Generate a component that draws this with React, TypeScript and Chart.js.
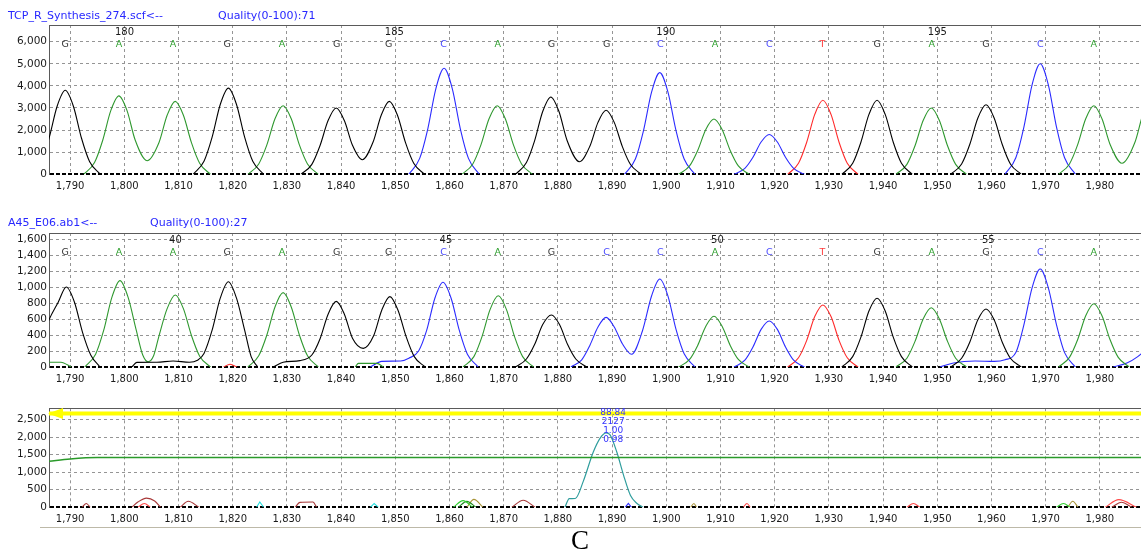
import React, { useEffect, useRef } from "react";
import { Chart, registerables } from "chart.js";
Chart.register(...registerables);
Chart.defaults.font.family = "DejaVu Sans";

type P = [number, number | null];

const X_MIN = 1786.1;
const X_MAX = 1987.6;
const xTicks = [1790, 1800, 1810, 1820, 1830, 1840, 1850, 1860, 1870, 1880, 1890, 1900, 1910, 1920, 1930, 1940, 1950, 1960, 1970, 1980];
const yTicks1 = [0, 1000, 2000, 3000, 4000, 5000, 6000];
const yTicks2 = [0, 200, 400, 600, 800, 1000, 1200, 1400, 1600];
const yTicks3 = [0, 500, 1000, 1500, 2000, 2500];

// base call positions (scan units) and letters
const baseX = [1789.1, 1799.0, 1809.0, 1819.0, 1829.1, 1839.2, 1848.8, 1858.9, 1868.9, 1878.8, 1889.0, 1898.9, 1909.0, 1919.0, 1928.8, 1938.9, 1949.0, 1959.0, 1969.0, 1978.9];
const bases1 = ["G", "A", "A", "G", "A", "G", "G", "C", "A", "G", "G", "C", "A", "C", "T", "G", "A", "G", "C", "A"];
const bases2 = ["G", "A", "A", "G", "A", "G", "G", "C", "A", "G", "C", "C", "A", "C", "T", "G", "A", "G", "C", "A"];
const posIdx1 = [1, 6, 11, 16];
const posLabels1 = ["180", "185", "190", "195"];
const posIdx2 = [2, 7, 12, 17];
const posLabels2 = ["40", "45", "50", "55"];
const peakLabels3 = ["88.84", "2127", "1.00", "0.98"];
const peakLabelX3 = 1890.2;

// ---------- panel 1 (TCP_R_Synthesis_274.scf) ----------
const p1G: P[] = [
  [1782.6, 0], [1784.6, 570], [1786.1, 1630], [1787.6, 3080], [1789.1, 3800], [1790.6, 3080], [1792.1, 1630], [1793.6, 570], [1795.6, 0], [1795.7, null],
  [1812.7, 0], [1814.7, 590], [1816.2, 1680], [1817.7, 3160], [1819.2, 3900], [1820.7, 3160], [1822.2, 1680], [1823.7, 590], [1825.7, 0], [1825.8, null],
  [1832.6, 0], [1834.6, 450], [1836.1, 1290], [1837.6, 2430], [1839.1, 3000], [1840.6, 2430], [1842.1, 1310], [1843.9, 660], [1845.9, 1460], [1847.4, 2670], [1848.9, 3300], [1850.4, 2670], [1851.9, 1420], [1853.4, 500], [1855.4, 0], [1855.5, null],
  [1872.2, 0], [1874.2, 530], [1875.7, 1510], [1877.2, 2840], [1878.7, 3500], [1880.2, 2840], [1881.7, 1530], [1884.0, 570], [1885.9, 1270], [1887.4, 2350], [1888.9, 2900], [1890.4, 2350], [1891.9, 1250], [1893.4, 440], [1895.4, 0], [1895.5, null],
  [1932.4, 0], [1934.4, 500], [1935.9, 1440], [1937.4, 2710], [1938.9, 3350], [1940.4, 2710], [1941.9, 1440], [1943.4, 500], [1945.4, 0], [1945.5, null],
  [1952.5, 0], [1954.5, 470], [1956.0, 1350], [1957.5, 2550], [1959.0, 3150], [1960.5, 2550], [1962.0, 1350], [1963.5, 470], [1965.5, 0],
];
const p1A: P[] = [
  [1792.5, 0], [1794.5, 530], [1796.0, 1530], [1797.5, 2880], [1799.0, 3550], [1800.5, 2880], [1802.0, 1550], [1804.2, 615], [1806.4, 1440], [1807.9, 2670], [1809.4, 3300], [1810.9, 2670], [1812.4, 1420], [1813.9, 500], [1815.9, 0], [1816.0, null],
  [1822.8, 0], [1824.8, 470], [1826.3, 1330], [1827.8, 2510], [1829.3, 3100], [1830.8, 2510], [1832.3, 1330], [1833.8, 470], [1835.8, 0], [1835.9, null],
  [1862.3, 0], [1864.3, 470], [1865.8, 1330], [1867.3, 2510], [1868.8, 3100], [1870.3, 2510], [1871.8, 1330], [1873.3, 470], [1875.3, 0], [1875.4, null],
  [1902.3, 0], [1904.3, 380], [1905.8, 1080], [1907.3, 2030], [1908.8, 2500], [1910.3, 2030], [1911.8, 1080], [1913.3, 380], [1915.3, 0], [1915.4, null],
  [1942.4, 0], [1944.4, 450], [1945.9, 1290], [1947.4, 2430], [1948.9, 3000], [1950.4, 2430], [1951.9, 1290], [1953.4, 450], [1955.4, 0], [1955.5, null],
  [1972.4, 0], [1974.4, 470], [1975.9, 1330], [1977.4, 2510], [1978.9, 3100], [1980.4, 2510], [1981.9, 1350], [1984.1, 500], [1986.5, 1460], [1988.0, 2750], [1989.5, 3400], [1991.0, 2750],
];
const p1C: P[] = [
  [1852.5, 0], [1854.5, 720], [1856.0, 2060], [1857.5, 3890], [1859.0, 4800], [1860.5, 3890], [1862.0, 2060], [1863.5, 720], [1865.5, 0], [1865.6, null],
  [1892.3, 0], [1894.3, 690], [1895.8, 1980], [1897.3, 3730], [1898.8, 4600], [1900.3, 3730], [1901.8, 1980], [1903.3, 690], [1905.3, 0], [1905.4, null],
  [1912.5, 0], [1914.5, 270], [1916.0, 770], [1917.5, 1460], [1919.0, 1800], [1920.5, 1460], [1922.0, 770], [1923.5, 270], [1925.5, 0], [1925.6, null],
  [1962.5, 0], [1964.5, 750], [1966.0, 2150], [1967.5, 4050], [1969.0, 5000], [1970.5, 4050], [1972.0, 2150], [1973.5, 750], [1975.5, 0],
];
const p1T: P[] = [
  [1922.4, 0], [1924.4, 500], [1925.9, 1440], [1927.4, 2710], [1928.9, 3350], [1930.4, 2710], [1931.9, 1440], [1933.4, 500], [1935.4, 0],
];

// ---------- panel 2 (A45_E06.ab1) ----------
const p2G: P[] = [
  [1784.0, 200], [1786.1, 590], [1787.8, 810], [1789.3, 1000], [1790.8, 810], [1792.3, 430], [1793.8, 150], [1795.5, 0], [1795.6, null],
  [1801.4, 0], [1802.3, 58], [1806.0, 60], [1809.0, 75], [1812.0, 60], [1813.5, 85], [1814.7, 170], [1816.2, 460], [1817.7, 860], [1819.2, 1066], [1820.7, 860], [1822.2, 460], [1823.4, 130], [1824.6, 0], [1824.7, null],
  [1827.5, 0], [1829.3, 60], [1832.4, 80], [1834.6, 150], [1836.1, 350], [1837.6, 660], [1839.1, 820], [1840.6, 660], [1842.1, 360], [1844.1, 233], [1846.0, 390], [1847.5, 710], [1849.0, 880], [1850.5, 710], [1852.0, 380], [1853.5, 130], [1855.5, 0], [1855.6, null],
  [1872.2, 0], [1874.2, 100], [1875.7, 280], [1877.2, 530], [1878.8, 650], [1880.3, 530], [1881.8, 280], [1883.3, 100], [1885.3, 0], [1885.4, null],
  [1932.4, 0], [1934.4, 130], [1935.9, 370], [1937.4, 700], [1938.9, 860], [1940.4, 700], [1941.9, 370], [1943.4, 130], [1945.4, 0], [1945.5, null],
  [1952.5, 0], [1954.5, 110], [1956.0, 310], [1957.5, 590], [1959.0, 725], [1960.5, 590], [1962.0, 310], [1963.5, 110], [1965.5, 0],
];
const p2A: P[] = [
  [1786.1, 60], [1788.3, 60], [1790.2, 0], [1790.3, null],
  [1792.7, 0], [1794.7, 160], [1796.2, 460], [1797.7, 870], [1799.2, 1080], [1800.7, 870], [1802.2, 460], [1803.4, 150], [1804.4, 66], [1805.4, 140], [1806.4, 390], [1807.9, 730], [1809.4, 900], [1810.9, 730], [1812.4, 390], [1813.9, 135], [1815.9, 0], [1816.0, null],
  [1822.8, 0], [1824.8, 140], [1826.3, 400], [1827.8, 750], [1829.3, 930], [1830.8, 750], [1832.3, 400], [1833.8, 140], [1835.8, 0], [1835.9, null],
  [1842.6, 0], [1843.2, 45], [1846.6, 45], [1847.8, 0], [1847.9, null],
  [1862.5, 0], [1864.5, 130], [1866.0, 380], [1867.5, 720], [1869.0, 890], [1870.5, 720], [1872.0, 380], [1873.5, 130], [1875.5, 0], [1875.6, null],
  [1902.3, 0], [1904.3, 95], [1905.8, 270], [1907.3, 510], [1908.8, 635], [1910.3, 510], [1911.8, 270], [1913.3, 95], [1915.3, 0], [1915.4, null],
  [1942.4, 0], [1944.4, 110], [1945.9, 320], [1947.4, 600], [1948.9, 740], [1950.4, 600], [1951.9, 320], [1953.4, 110], [1955.4, 0], [1955.5, null],
  [1972.4, 0], [1974.4, 120], [1975.9, 340], [1977.4, 640], [1978.9, 790], [1980.4, 640], [1981.9, 340], [1983.4, 120], [1985.4, 0],
];
const p2C: P[] = [
  [1845.4, 0], [1847.5, 70], [1851.0, 75], [1852.5, 110], [1854.3, 200], [1855.8, 460], [1857.3, 860], [1858.8, 1060], [1860.3, 860], [1861.8, 460], [1863.3, 160], [1865.3, 0], [1865.4, null],
  [1882.4, 0], [1884.4, 90], [1885.9, 270], [1887.4, 500], [1888.9, 620], [1890.4, 500], [1891.9, 290], [1893.6, 160], [1895.6, 450], [1897.3, 890], [1898.8, 1100], [1900.3, 890], [1901.8, 470], [1903.3, 165], [1905.3, 0], [1905.4, null],
  [1912.5, 0], [1914.5, 85], [1916.0, 250], [1917.5, 470], [1919.0, 575], [1920.5, 470], [1922.0, 250], [1923.5, 85], [1925.5, 0], [1925.6, null],
  [1950.5, 0], [1953.0, 50], [1957.0, 75], [1960.5, 70], [1962.5, 90], [1964.5, 180], [1966.0, 530], [1967.5, 990], [1969.0, 1225], [1970.5, 990], [1972.0, 530], [1973.5, 180], [1975.5, 0], [1975.6, null],
  [1982.5, 0], [1985.0, 50], [1987.0, 130], [1989.0, 250],
];
const p2T: P[] = [
  [1818.3, 0], [1819.5, 34], [1820.8, 0], [1820.9, null],
  [1922.4, 0], [1924.4, 115], [1925.9, 330], [1927.4, 630], [1928.9, 775], [1930.4, 630], [1931.9, 330], [1933.4, 115], [1935.4, 0],
];

// ---------- panel 3 (comparison / difference) ----------
const p3Yellow: P[] = [[1786.1, 2670], [1987.6, 2670]];
const p3Level: P[] = [[1786.1, 1310], [1790.0, 1375], [1795.0, 1415], [1987.6, 1415]];
const p3Teal: P[] = [
  [1881.3, 0], [1882.1, 245], [1883.2, 250], [1884.7, 745], [1886.5, 1560], [1887.8, 1970], [1888.9, 2120], [1889.6, 2070], [1890.9, 1560], [1892.1, 925], [1893.4, 335], [1894.6, 110], [1895.7, 0],
];
const p3DarkRed: P[] = [
  [1792.2, 0], [1793.0, 110], [1793.7, 0], [1793.8, null],
  [1801.4, 0], [1802.5, 150], [1804.1, 262], [1805.6, 180], [1806.7, 0], [1806.8, null],
  [1810.3, 0], [1811.8, 172], [1813.8, 0], [1813.9, null],
  [1831.5, 0], [1832.4, 140], [1834.8, 150], [1835.5, 0], [1835.6, null],
  [1871.5, 0], [1873.6, 200], [1875.8, 0], [1875.9, null],
  [1982.2, 0], [1984.0, 145], [1985.9, 0],
];
const p3Red: P[] = [
  [1802.5, 0], [1803.7, 110], [1804.8, 0], [1804.9, null],
  [1914.2, 0], [1914.9, 109], [1915.5, 0], [1915.6, null],
  [1944.4, 0], [1945.6, 109], [1946.8, 0], [1946.9, null],
  [1981.0, 0], [1983.5, 218], [1986.8, 0],
];
const p3Cyan: P[] = [
  [1824.4, 0], [1825.0, 153], [1825.7, 0], [1825.8, null],
  [1845.4, 0], [1846.1, 109], [1846.9, 0],
];
const p3LightGreen: P[] = [
  [1860.7, 0], [1862.5, 190], [1864.3, 0], [1864.4, null],
  [1972.0, 0], [1973.3, 109], [1974.5, 0],
];
const p3DarkGreen: P[] = [[1861.6, 0], [1863.2, 170], [1864.9, 0]];
const p3Olive: P[] = [
  [1863.2, 0], [1864.5, 225], [1866.2, 0], [1866.3, null],
  [1904.5, 0], [1905.1, 109], [1905.6, 0], [1905.7, null],
  [1974.1, 0], [1975.0, 172], [1976.0, 0],
];
const p3Blue: P[] = [[1892.4, 0], [1893.0, 109], [1893.6, 0]];

const TRACE = { G: "#000000", A: "#2f982f", C: "#2b2bff", T: "#ff2b2b" };
const BASE_COL: Record<string, string> = { G: "#333333", A: "#2fa02f", C: "#4a4aff", T: "#ff3a3a" };
const GRID = "#959595";

function ds(pts: P[], color: string, width = 1.1, extra: any = {}) {
  return {
    data: pts.map(([x, y]) => ({ x, y })),
    borderColor: color,
    borderWidth: width,
    pointRadius: 0,
    fill: false,
    cubicInterpolationMode: "monotone",
    ...extra,
  };
}

const annotate = {
  id: "annotate",
  afterDatasetsDraw(chart: any, _args: any, o: any) {
    const { ctx, chartArea: a } = chart;
    const xs = chart.scales.x;
    const ys = chart.scales.y;
    ctx.save();
    ctx.setLineDash([]);
    ctx.strokeStyle = "#5a5a5a";
    ctx.lineWidth = 1;
    ctx.beginPath();
    ctx.moveTo(a.left, Math.round(a.top) + 0.5);
    ctx.lineTo(a.right, Math.round(a.top) + 0.5);
    ctx.stroke();
    if (o && o.bases) {
      ctx.font = '9.5px "DejaVu Sans"';
      ctx.textAlign = "center";
      ctx.textBaseline = "middle";
      o.bases.forEach((b: string, i: number) => {
        ctx.fillStyle = BASE_COL[b];
        ctx.fillText(b, xs.getPixelForValue(baseX[i]), a.top + 19.5);
      });
      ctx.font = '10px "DejaVu Sans"';
      ctx.textAlign = "left";
      ctx.fillStyle = "#1a1a1a";
      o.posIdx.forEach((idx: number, k: number) => {
        ctx.fillText(o.posLabels[k], xs.getPixelForValue(baseX[idx]) - 4, a.top + 7);
      });
    }
    if (o && o.arrowY != null) {
      const y = ys.getPixelForValue(o.arrowY);
      ctx.fillStyle = "#ffff00";
      ctx.beginPath();
      ctx.moveTo(a.left - 1, y);
      ctx.lineTo(a.left + 14, y - 5.5);
      ctx.lineTo(a.left + 14, y + 5.5);
      ctx.closePath();
      ctx.fill();
    }
    if (o && o.peakLabels) {
      ctx.font = '9px "DejaVu Sans"';
      ctx.textAlign = "center";
      ctx.textBaseline = "middle";
      ctx.fillStyle = "#3434ff";
      const offs = [4.3, 13, 22.3, 31];
      const px = xs.getPixelForValue(o.peakX);
      o.peakLabels.forEach((t: string, i: number) => ctx.fillText(t, px, a.top + offs[i]));
    }
    ctx.restore();
  },
};

function buildConfig(datasets: any[], yMax: number, yTickVals: number[], padTop: number, xAxisH: number, ann: any): any {
  return {
    type: "line",
    data: { datasets },
    options: {
      animation: false,
      responsive: false,
      events: [],
      spanGaps: false,
      layout: { padding: { top: padTop, left: 0, right: 0, bottom: 0 } },
      plugins: { legend: { display: false }, tooltip: { enabled: false }, annotate: ann },
      scales: {
        x: {
          type: "linear",
          min: X_MIN,
          max: X_MAX,
          afterBuildTicks: (s: any) => {
            s.ticks = xTicks.map((v) => ({ value: v }));
          },
          afterFit: (s: any) => {
            s.height = xAxisH;
          },
          ticks: {
            autoSkip: false,
            maxRotation: 0,
            padding: 6,
            color: "#1a1a1a",
            font: { size: 10, family: "DejaVu Sans" },
            callback: (v: any) => Number(v).toLocaleString("en-US"),
          },
          grid: { color: GRID, lineWidth: 1, drawTicks: false },
          border: { display: false, dash: [3, 3] },
        },
        y: {
          type: "linear",
          min: 0,
          max: yMax,
          afterBuildTicks: (s: any) => {
            s.ticks = yTickVals.map((v) => ({ value: v }));
          },
          afterFit: (s: any) => {
            s.width = 49;
          },
          ticks: {
            padding: 2,
            color: "#1a1a1a",
            font: { size: 10.5, family: "DejaVu Sans" },
            callback: (v: any) => Number(v).toLocaleString("en-US"),
          },
          grid: {
            drawTicks: false,
            color: (c: any) => (c.tick && c.tick.value === 0 ? "#000000" : GRID),
            lineWidth: (c: any) => (c.tick && c.tick.value === 0 ? 2 : 1),
          },
          border: {
            display: true,
            color: "#5a5a5a",
            width: 1,
            dash: (c: any) => (c.tick && c.tick.value === 0 ? [4, 2] : [3, 3]),
          },
        },
      },
    },
    plugins: [annotate],
  };
}

export default function App() {
  const r1 = useRef<HTMLCanvasElement>(null);
  const r2 = useRef<HTMLCanvasElement>(null);
  const r3 = useRef<HTMLCanvasElement>(null);

  useEffect(() => {
    const c1 = new Chart(
      r1.current as HTMLCanvasElement,
      buildConfig(
        [ds(p1G, TRACE.G), ds(p1A, TRACE.A), ds(p1C, TRACE.C), ds(p1T, TRACE.T)],
        6755, yTicks1, 25, 25.7,
        { bases: bases1, posIdx: posIdx1, posLabels: posLabels1 }
      )
    );
    const c2 = new Chart(
      r2.current as HTMLCanvasElement,
      buildConfig(
        [ds(p2G, TRACE.G), ds(p2A, TRACE.A), ds(p2C, TRACE.C), ds(p2T, TRACE.T)],
        1675, yTicks2, 33, 33,
        { bases: bases2, posIdx: posIdx2, posLabels: posLabels2 }
      )
    );
    const c3 = new Chart(
      r3.current as HTMLCanvasElement,
      buildConfig(
        [
          ds(p3Yellow, "#ffff00", 4, { cubicInterpolationMode: "default", tension: 0 }),
          ds(p3Level, "#2a9a2a", 1.5),
          ds(p3DarkRed, "#a83838"),
          ds(p3Red, "#ff4848"),
          ds(p3Cyan, "#20e0e0", 1.1, { cubicInterpolationMode: "default", tension: 0 }),
          ds(p3LightGreen, "#30d030"),
          ds(p3DarkGreen, "#208a20"),
          ds(p3Olive, "#a89438"),
          ds(p3Blue, "#3030ff", 1.1, { cubicInterpolationMode: "default", tension: 0 }),
          ds(p3Teal, "#2f9d9d", 1.2),
        ],
        2819, yTicks3, 4, 22.7,
        { arrowY: 2670, peakLabels: peakLabels3, peakX: peakLabelX3 }
      )
    );
    return () => {
      c1.destroy();
      c2.destroy();
      c3.destroy();
    };
  }, []);

  const titleStyle: React.CSSProperties = {
    position: "absolute",
    font: '11px "DejaVu Sans"',
    lineHeight: "13px",
    color: "#2828ff",
    whiteSpace: "nowrap",
  };

  return (
    <div
      style={{
        position: "absolute",
        left: 0,
        top: 0,
        width: 1141,
        height: 552,
        overflow: "hidden",
        background: "#ffffff",
      }}
    >
      <canvas ref={r1} width={1141} height={200} style={{ position: "absolute", left: 0, top: 0 }} />
      <canvas ref={r2} width={1141} height={200} style={{ position: "absolute", left: 0, top: 200 }} />
      <canvas ref={r3} width={1141} height={130} style={{ position: "absolute", left: 0, top: 400 }} />
      <div style={{ ...titleStyle, left: 8, top: 9 }}>{"TCP_R_Synthesis_274.scf<--"}</div>
      <div style={{ ...titleStyle, left: 218, top: 9 }}>{"Quality(0-100):71"}</div>
      <div style={{ ...titleStyle, left: 8, top: 215.5 }}>{"A45_E06.ab1<--"}</div>
      <div style={{ ...titleStyle, left: 150, top: 215.5 }}>{"Quality(0-100):27"}</div>
      <div style={{ position: "absolute", left: 40, top: 527, width: 1101, height: 1, background: "#bdb9a8" }} />
      <div
        style={{
          position: "absolute",
          left: 560,
          width: 40,
          top: 527,
          textAlign: "center",
          font: '27px "Liberation Serif"',
          lineHeight: "27px",
          color: "#000",
        }}
      >
        C
      </div>
    </div>
  );
}
